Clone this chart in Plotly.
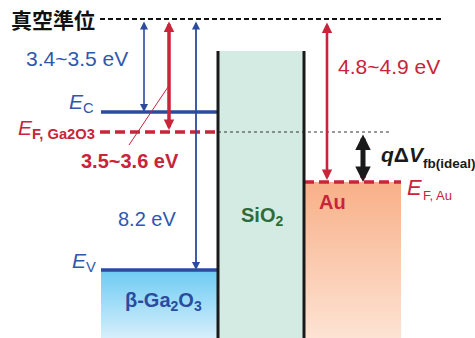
import plotly.graph_objects as go

# ---------------- data (schematic band-diagram levels, diagram units; y grows downward) ----------------
vacuum_y = 19
vacuum_x = [100, 444]
ga2o3_x = [101, 218]              # semiconductor region
sio2_x = [218, 304]               # oxide region
au_x = [304, 401]                 # metal region
sio2_top = 51
bottom_y = 338
level_names = ["E_C", "E_F,Ga2O3", "E_V", "E_F,Au"]
level_y = [112, 132, 270, 182]
gap_labels = ["3.4~3.5 eV", "3.5~3.6 eV", "8.2 eV", "4.8~4.9 eV"]
gap_arrow_x = [144, 169, 196, 327]
gap_arrow_to = [112, 132, 270, 182]
dvfb_x = 363
dvfb_span = [132, 182]
region_labels = ["β-Ga<sub>2</sub>O<sub>3</sub>", "SiO<sub>2</sub>", "Au"]

BLUE = "#2b4c9e"
BLUE_T = "#2f57ad"
RED = "#c8243a"
GREEN = "#2e6b3b"
FONT = "Liberation Sans, Arial, sans-serif"

fig = go.Figure()

def box(x0, x1, y0, y1, top, bot):
    fig.add_trace(go.Scatter(
        x=[x0, x1, x1, x0, x0], y=[y0, y0, y1, y1, y0], mode="none", fill="toself",
        fillgradient=dict(type="vertical", colorscale=[[0, top], [1, bot]], start=y0, stop=y1),
        hoverinfo="skip", showlegend=False))

Ec, EFg, Ev, EFau = level_y
box(ga2o3_x[0], ga2o3_x[1], Ev, bottom_y, "#6ccbf3", "#d6effb")
fig.add_trace(go.Scatter(x=[sio2_x[0], sio2_x[1], sio2_x[1], sio2_x[0], sio2_x[0]],
                         y=[sio2_top, sio2_top, bottom_y, bottom_y, sio2_top], mode="none",
                         fill="toself", fillcolor="#d4ebe3", hoverinfo="skip", showlegend=False))
box(au_x[0], au_x[1], EFau, bottom_y, "#f8b088", "#fde3d3")

shapes = []
def line(x0, y0, x1, y1, color, width, dash="solid"):
    shapes.append(dict(type="line", xref="x", yref="y", x0=x0, y0=y0, x1=x1, y1=y1,
                       line=dict(color=color, width=width, dash=dash)))

line(vacuum_x[0], vacuum_y, vacuum_x[1], vacuum_y, "#111111", 2, "5px,3px")
line(ga2o3_x[0], Ec, ga2o3_x[1], Ec, BLUE, 3.5)
line(ga2o3_x[0], Ev, ga2o3_x[1], Ev, BLUE, 3.5)
line(ga2o3_x[0] - 1, EFg, ga2o3_x[1], EFg, RED, 3.5, "10px,5px")
line(ga2o3_x[1], EFg, 392, EFg, "#333333", 1, "dot")
line(au_x[0], EFau, au_x[1], EFau, RED, 3.5, "10px,5px")
line(sio2_x[0], sio2_top, sio2_x[0], bottom_y, "#1a1a1a", 3)
line(sio2_x[1], sio2_top, sio2_x[1], bottom_y, "#1a1a1a", 3)
line(129, 145, 168, 87, RED, 1)

annotations = []
def arrow(x, y0, y1, color, width, size):
    annotations.append(dict(x=x, y=y1, ax=x, ay=y0, xref="x", yref="y", axref="x", ayref="y",
                            text="", showarrow=True, arrowhead=2, arrowside="end+start",
                            arrowwidth=width, arrowsize=size, arrowcolor=color,
                            standoff=0, startstandoff=0))

arrow(gap_arrow_x[0], vacuum_y + 1, gap_arrow_to[0], BLUE, 1.6, 1.0)
arrow(gap_arrow_x[1], vacuum_y + 1, gap_arrow_to[1] - 2, RED, 3.5, 0.6)
arrow(gap_arrow_x[2], vacuum_y + 1, gap_arrow_to[2], BLUE, 1.8, 0.9)
arrow(gap_arrow_x[3], vacuum_y + 2, gap_arrow_to[3] - 2, RED, 2.6, 0.8)
arrow(dvfb_x, dvfb_span[0] + 1, dvfb_span[1], "#1a1a1a", 5, 0.62)

def text(x, y, s, color, size, xanchor="left", bold=False, family=FONT):
    if bold:
        s = "<b>" + s + "</b>"
    annotations.append(dict(x=x, y=y, xref="x", yref="y", text=s, showarrow=False,
                            xanchor=xanchor, yanchor="middle",
                            font=dict(color=color, size=size, family=family)))

text(9, vacuum_y, "真空準位", "#111111", 21, bold=True, family="Noto Sans CJK JP")
text(24, 58, gap_labels[0], BLUE_T, 21)
text(79, 161, gap_labels[1], RED, 20, bold=True)
text(116, 219, gap_labels[2], BLUE_T, 20)
text(336, 66, gap_labels[3], RED, 21)

text(96, 103, "<i>E</i><sub>C</sub>", BLUE_T, 21, xanchor="right")
text(97, 129, "<i>E</i><sub><b>F, Ga2O3</b></sub>", RED, 21, xanchor="right")
text(98, 262, "<i>E</i><sub>V</sub>", BLUE_T, 21, xanchor="right")
# E_F,Au and qΔV_fb(ideal): main symbol and subscript drawn separately for exact sizing
text(405, 187, "<i>E</i>", RED, 22)
text(421, 195, "F, Au", RED, 13)
text(379, 154, "<i>q</i>Δ<i>V</i>", "#1a1a1a", 21, bold=True)
text(421, 163, "fb(ideal)", "#1a1a1a", 13.5, bold=True)

text(163, 301, region_labels[0], BLUE, 20, xanchor="center", bold=True)
text(262, 216, region_labels[1], GREEN, 20, xanchor="center", bold=True)
text(332, 202, region_labels[2], RED, 20, xanchor="center", bold=True)

fig.update_layout(
    width=475, height=338, margin=dict(l=0, r=0, t=0, b=0),
    paper_bgcolor="white", plot_bgcolor="white",
    xaxis=dict(range=[0, 475], visible=False, fixedrange=True),
    yaxis=dict(range=[338, 0], visible=False, fixedrange=True),
    shapes=shapes, annotations=annotations, showlegend=False)

# remove the default 8px page margin so diagram units map 1:1 to page pixels
fig.write_html("out.html", config={"displayModeBar": False, "staticPlot": True},
               post_script="document.body.style.margin='0px';document.body.style.overflow='hidden';")
